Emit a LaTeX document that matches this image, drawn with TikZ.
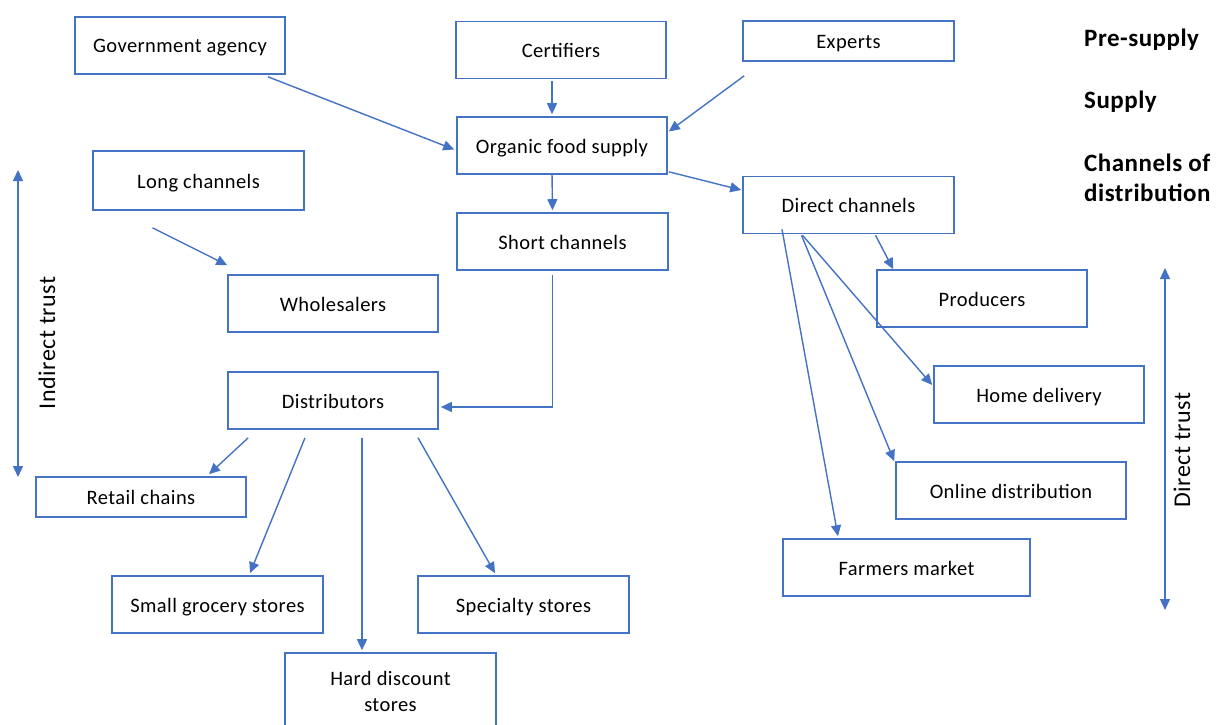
\documentclass[tikz,border=0pt]{standalone}
\usepackage{fontspec}
\setmainfont[LetterSpace=2]{Carlito}
\usetikzlibrary{arrows.meta,calc}
\definecolor{obl}{HTML}{4472C4}
\begin{document}
\begin{tikzpicture}[x=1pt,y=-1pt,
  box/.style={draw=obl,line width=1.6pt,minimum width=210pt,minimum height=57pt,
    inner sep=0pt,font=\fontsize{20.5}{26}\selectfont,text height=16pt,text depth=1pt,
    anchor=center},
  twoline/.style={text height=,text depth=,align=center},
  arr/.style={draw=obl,line width=1.4pt,-{Triangle[length=11pt,width=10pt]}},
  darr/.style={draw=obl,line width=1.4pt,
    {Triangle[length=11pt,width=10pt]}-{Triangle[length=11pt,width=10pt]}},
  level/.style={font=\fontsize{25}{30}\selectfont\bfseries,anchor=west,align=left,inner sep=0pt},
  trust/.style={font=\fontsize{24}{28}\selectfont,rotate=90,inner sep=0pt}]
\useasboundingbox (0,0) rectangle (1219,725);

% pre-supply and supply
\node[box] (gov)  at (180,45.5)   {Government agency};
\node[box] (cert) at (561,50)     {Certifiers};
\node[box,minimum width=211pt,minimum height=40pt] (exp) at (848.5,41) {Experts};
\node[box] (org)  at (562,145.5)  {Organic food supply};

% channels
\node[box,minimum width=211pt,minimum height=59pt] (long) at (198.5,180.5) {Long channels};
\node[box,minimum width=211pt] (direct) at (848.5,205) {Direct channels};
\node[box,minimum width=211pt] (short)  at (562.5,241.5) {Short channels};
\node[box] (whole) at (333,303.5) {Wholesalers};
\node[box] (dist)  at (333,400.5) {Distributors};

% indirect outlets
\node[box,minimum height=40pt] (retail) at (141,497) {Retail chains};
\node[box,minimum width=211pt] (small) at (217.5,604.5) {Small grocery stores};
\node[box,minimum width=211pt] (spec)  at (523.5,604.5) {Specialty stores};
\node[box,twoline,minimum width=211pt,minimum height=76pt] (hard) at (390.5,691) {Hard discount\\stores};

% direct outlets
\node[box] (prod) at (982,298.5)  {Producers};
\node[box] (home) at (1039,394.5) {Home delivery};
\node[box,minimum width=230pt] (online) at (1011,490.5) {Online distribution};
\node[box,minimum width=247pt] (farm)   at (906.5,567.5) {Farmers market};

% level labels
\node[level] (lpre) at (1084,40)  {Pre-supply};
\node[level] (lsup) at (1084,102) {Supply};
\node[level] (lch)  at (1084,178) {Channels of\\distribution};

% trust axes
\coordinate (itop) at (18,170);
\coordinate (ibot) at (18,477);
\draw[darr] (itop) -- (ibot);
\node[trust] (itxt) at (47,343) {Indirect trust};
\coordinate (dtop) at (1165,268);
\coordinate (dbot) at (1165,610);
\draw[darr] (dtop) -- (dbot);
\node[trust] (dtxt) at (1182,450) {Direct trust};

% supply flows
\draw[arr] ($(gov.south)+(88,2)$) -- ($(org.west)+(-2,4)$);
\draw[arr] ($(cert.south)+(-9,2)$) -- ($(org.north)+(-10,-2)$);
\draw[arr] ($(exp.south west)+(2,14)$) -- ($(org.east)+(1,-14)$);
\draw[arr] ($(org.south)+(-10,-2)$) -- ($(short.north)+(-10,-2)$);
\draw[arr] ($(org.south east)+(1,-3)$) -- ($(direct.west)+(-1,-15)$);
\draw[arr] ($(long.south)+(-46,17)$) -- ($(whole.north west)+(0,-9)$);
\draw[arr] ($(short.south)+(-10,4)$) |- ($(dist.east)+(2,6.5)$);

% direct channel flows
\draw[arr] ($(direct.south)+(27,1)$) -- ($(prod.north west)+(17,0)$);
\draw[arr] ($(direct.south)+(-46,1)$) -- ($(home.west)+(-1,-9.5)$);
\draw[arr] ($(direct.south)+(-47,1)$) -- ($(online.north west)+(-1,0)$);
\draw[arr] ($(direct.south)+(-66.5,-5)$) -- ($(farm.north)+(-68.5,-2)$);

% distributor flows
\draw[arr] ($(dist.south west)+(21,8)$) -- ($(retail.north)+(68,-2)$);
\draw[arr] ($(dist.south)+(-28,8)$) -- ($(small.north)+(32.5,-2)$);
\draw[arr] ($(dist.south)+(29,8)$) -- ($(hard.north)+(-28.5,-2)$);
\draw[arr] ($(dist.south)+(85,8)$) -- ($(spec.north)+(-28.5,-2)$);
\end{tikzpicture}
\end{document}
